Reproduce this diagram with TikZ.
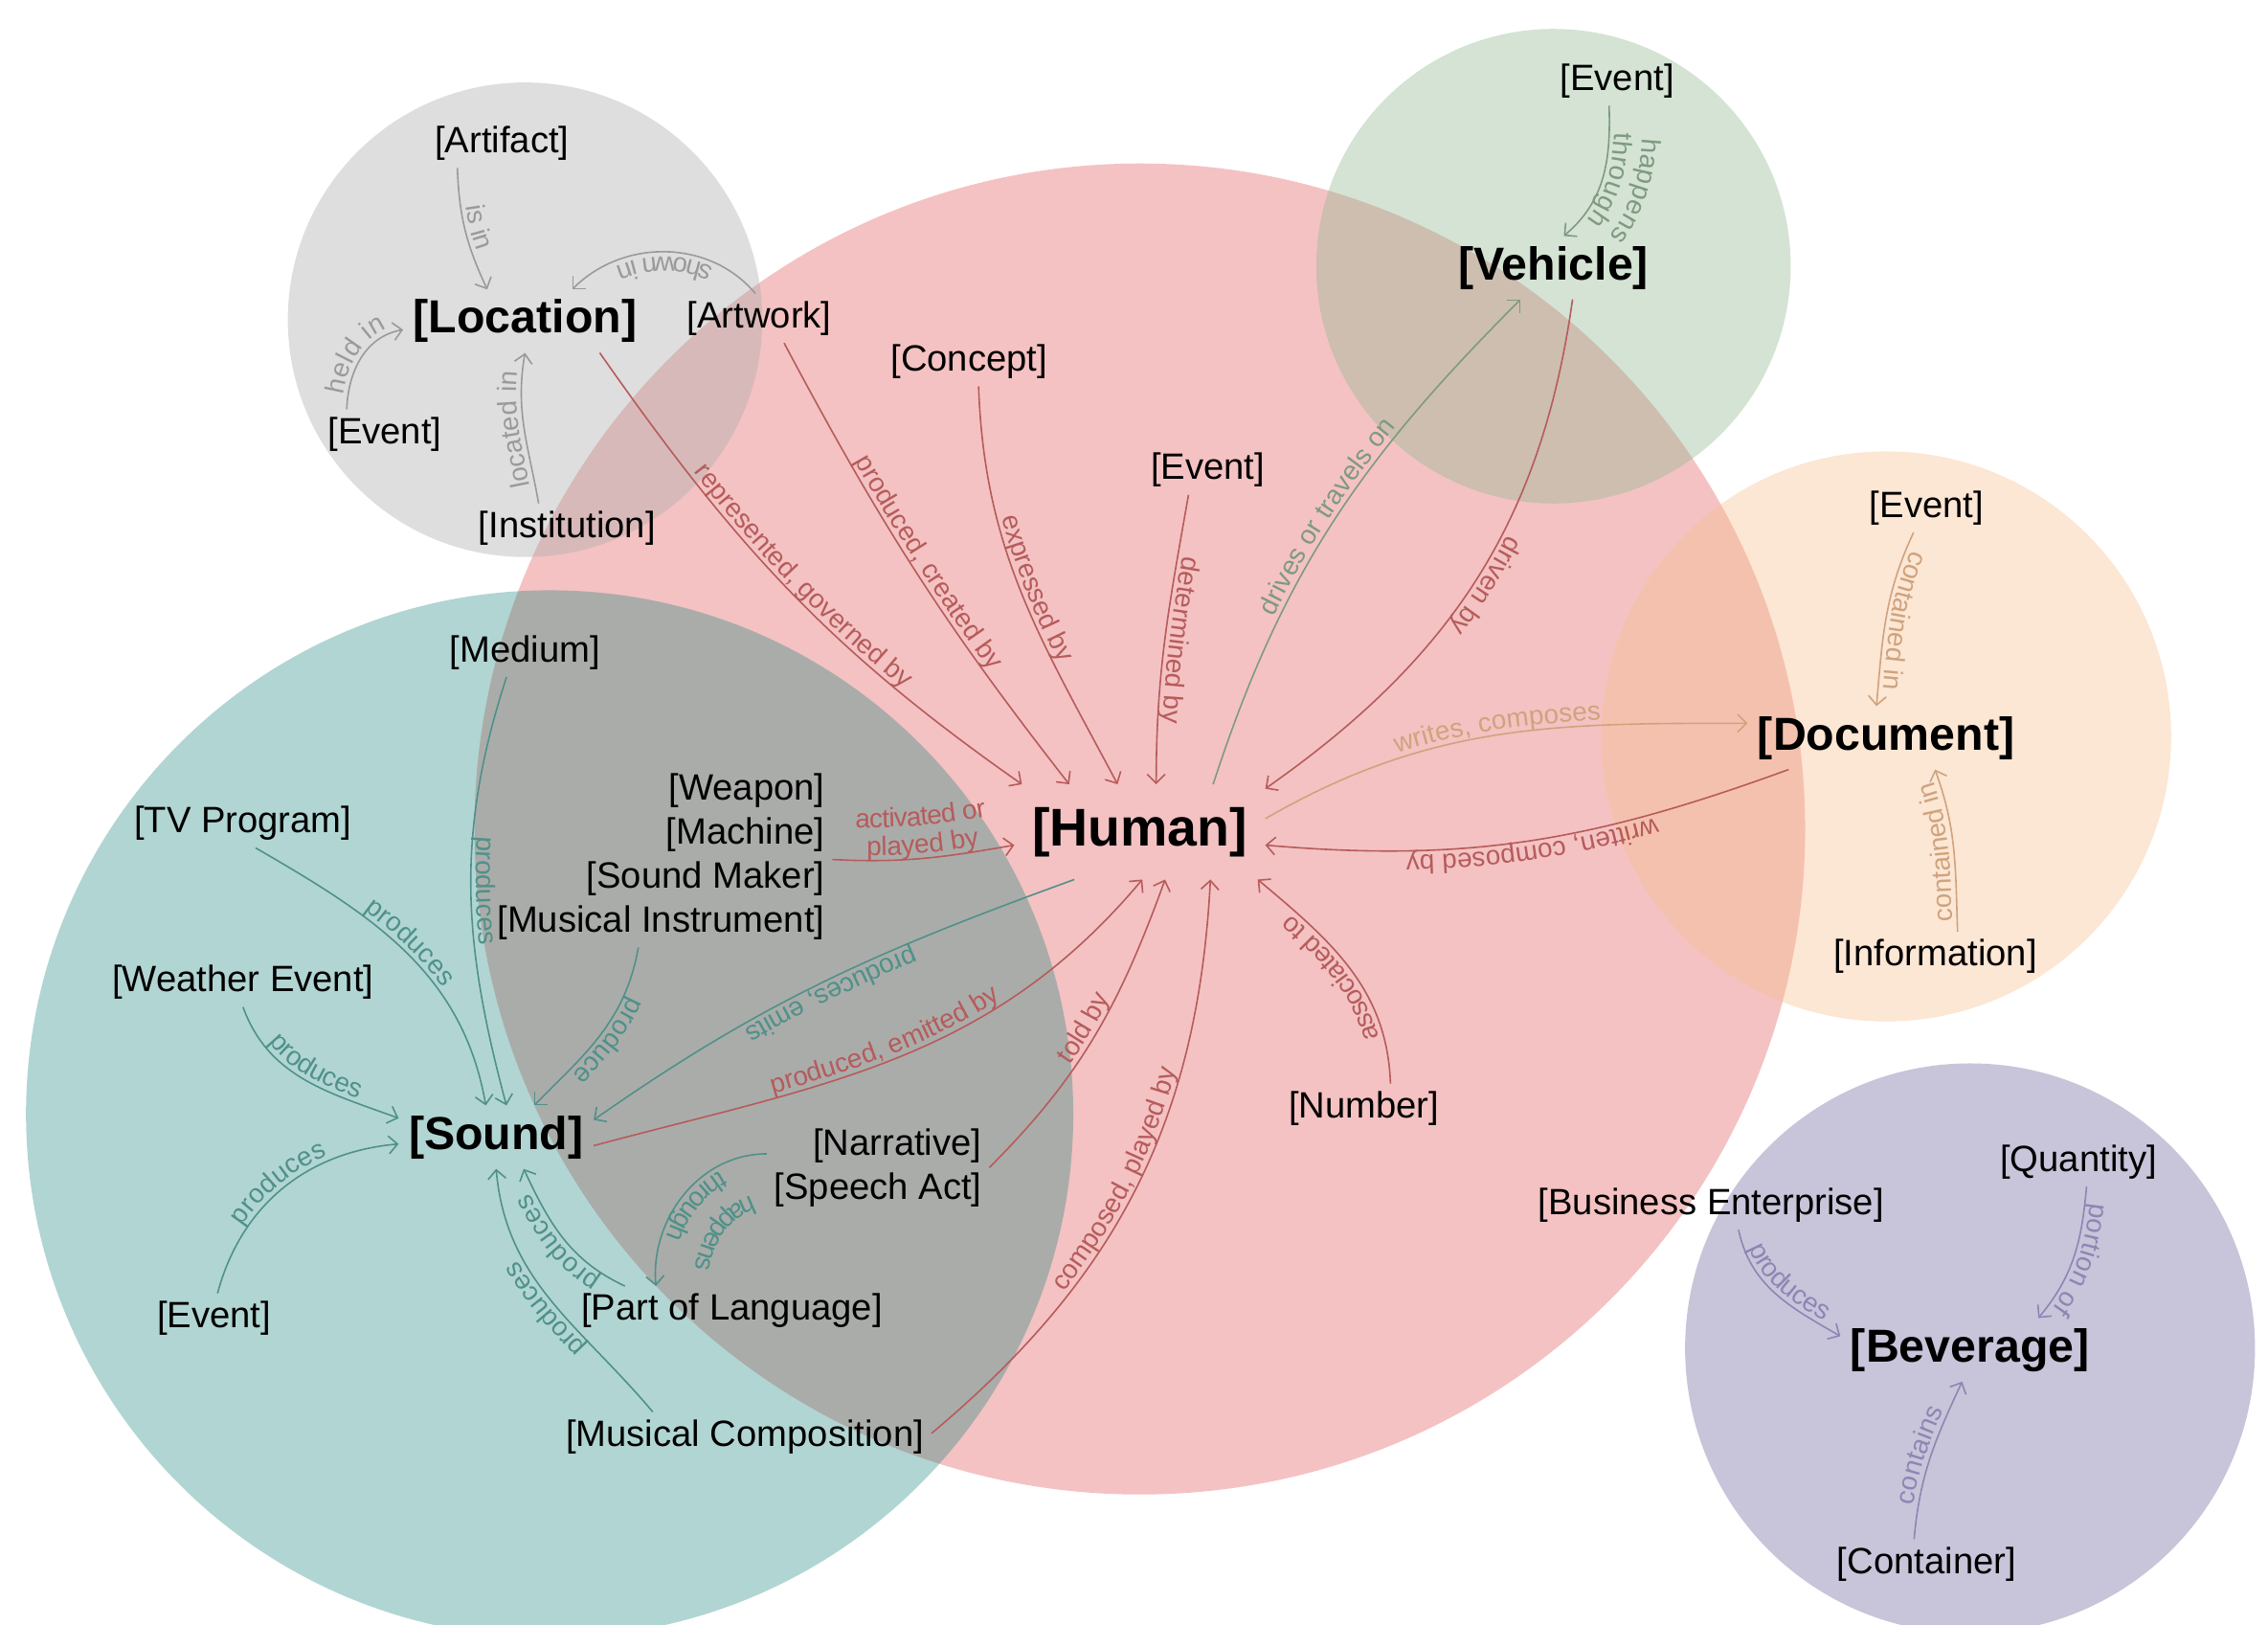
\documentclass[tikz,border=0pt]{standalone}
\usepackage{fontspec}
\setmainfont{Liberation Sans}
\usetikzlibrary{arrows.meta,decorations.text}
\definecolor{fpink}{HTML}{E46666}
\definecolor{fgray}{HTML}{ACACAC}
\definecolor{fgreen}{HTML}{94B994}
\definecolor{forange}{HTML}{F8C194}
\definecolor{fteal}{HTML}{138079}
\definecolor{fpurple}{HTML}{766CA0}
\definecolor{egray}{HTML}{9A9A9A}
\definecolor{ered}{HTML}{B65B5B}
\definecolor{egreen}{HTML}{7E9A80}
\definecolor{eteal}{HTML}{4F9189}
\definecolor{etan}{HTML}{CFA37D}
\definecolor{epurple}{HTML}{8C86B5}
\newcommand\elabfont{\fontsize{10.5}{11.5}\selectfont}
\tikzset{
  blob/.style={fill opacity=0.4},
  ent/.style={font=\fontsize{14.4}{17.4}\selectfont, inner sep=3pt, outer sep=0pt},
  hub/.style={font=\fontsize{18.2}{21}\selectfont\bfseries, inner sep=4pt, outer sep=0pt},
  hubbig/.style={font=\fontsize{20.9}{24}\selectfont\bfseries, inner xsep=7pt, inner ysep=9pt, outer sep=0pt},
  link/.style={line width=0.6pt, -{Straight Barb[length=3.5pt,width=7pt]}},
  tl/.style 2 args={postaction={decorate, decoration={text along path, text align=center, raise=2pt, text={|\elabfont\color{#1}|#2}}}},
  tlb/.style n args={3}{postaction={decorate, decoration={text along path, text align=center, raise=2pt, text={|\elabfont\color{#1}|#3}}},
                        postaction={decorate, decoration={text along path, text align=center, raise=13pt, text={|\elabfont\color{#1}|#2}}}},
  lgray/.style={link, egray},
  lred/.style={link, ered},
  lgreen/.style={link, egreen},
  lteal/.style={link, eteal},
  ltan/.style={link, etan},
  lpurple/.style={link, epurple}
}
\begin{document}
\begin{tikzpicture}[x=0.02cm, y=0.02cm]
\useasboundingbox (0,0) rectangle (1568,-1123);
\clip (0,0) rectangle (1568,-1123);
% circles
\fill[blob, fpink] (788,-573) circle [radius=460];
\fill[blob, fgray] (363,-221) circle [radius=164];
\fill[blob, fgreen] (1074,-184) circle [radius=164];
\fill[blob, forange] (1304,-509) circle [radius=197];
\fill[blob, fteal, fill opacity=0.33] (380,-770) circle [radius=362];
\fill[blob, fpurple] (1362,-932) circle [radius=197];
% nodes
\node[ent] (art) at (347,-99) {[Artifact]};
\node[hub] (loc) at (363,-222) {[Location]};
\node[ent] (awk) at (525,-220) {[Artwork]};
\node[ent] (ev1) at (266,-300) {[Event]};
\node[ent] (ins) at (392,-365) {[Institution]};
\node[hubbig] (hum) at (788,-575) {[Human]};
\node[ent] (con) at (670,-250) {[Concept]};
\node[ent] (ev2) at (835,-325) {[Event]};
\node[ent] (num) at (943,-766) {[Number]};
\node[ent, align=right] (wmm) at (457,-592) {[Weapon]\\{}[Machine]\\{}[Sound Maker]\\{}[Musical Instrument]};
\node[ent, align=right] (nar) at (607,-807) {[Narrative]\\{}[Speech Act]};
\node[ent] (pol) at (506,-906) {[Part of Language]};
\node[ent] (mc) at (515,-993) {[Musical Composition]};
\node[hub] (snd) at (343,-786) {[Sound]};
\node[ent] (med) at (363,-451) {[Medium]};
\node[ent] (tv) at (168,-569) {[TV Program]};
\node[ent] (we) at (168,-679) {[Weather Event]};
\node[ent] (ev3) at (148,-911) {[Event]};
\node[hub] (veh) at (1074,-185) {[Vehicle]};
\node[ent] (ev4) at (1118,-56) {[Event]};
\node[hub] (doc) at (1304,-510) {[Document]};
\node[ent] (ev5) at (1332,-351) {[Event]};
\node[ent] (inf) at (1338,-661) {[Information]};
\node[hub] (bev) at (1362,-933) {[Beverage]};
\node[ent] (be) at (1183,-833) {[Business Enterprise]};
\node[ent] (qty) at (1437,-803) {[Quantity]};
\node[ent] (cnt) at (1332,-1081) {[Container]};
% guide points for the outer line of two-line labels
\coordinate (vh1) at (1132,-73);
\coordinate (vh2) at (1094,-177);
\coordinate (sh1) at (533,-821);
\coordinate (sh2) at (477,-892);
% location group
\draw[lgray, tl={egray}{is in}] (art.209) to[out=-88,in=115] (loc.140);
\draw[lgray, tl={egray}{shown in}] (awk.99) to[out=130,in=45] (loc.34);
\draw[lgray, tl={egray}{held in}] (ev1.147) to[out=88,in=190] (loc.184);
\draw[lgray, tl={egray}{located in}] (ins.139) to[out=100,in=-100] (loc.270);
% human group
\draw[lred, tl={ered}{represented, governed by}] (loc.-23) to[out=-55,in=145] (hum.158);
\draw[lred, tl={ered}{produced, created by}] (awk.-45) to[out=-62,in=128] (hum.146);
\draw[lred, tl={ered}{expressed by}] (con.-69) to[out=-88,in=118] (hum.115);
\draw[lred, tl={ered}{determined by}] (ev2.232) to[out=-100,in=90] (hum.71);
\draw[lgreen, tl={egreen}{drives or travels on}] (hum.33) to[out=72,in=225] (veh.224);
\draw[lred, tl={ered}{driven by}] (veh.-59) to[out=-98,in=35] (hum.19);
\draw[ltan, tl={etan}{writes, composes}] (hum.6) to[out=30,in=180] (doc.174);
\draw[lred, tl={ered}{written, composed by}] (doc.198) to[out=200,in=-5] (hum.-6);
\draw[lred, tl={ered}{associated to}] (num.43) to[out=92,in=-40] (hum.-22);
\draw[lred, tl={ered}{composed, played by}] (mc.1) to[out=40,in=-93] (hum.-34);
\draw[lred, tl={ered}{told by}] (nar.0) to[out=45,in=-110] (hum.-62);
\draw[lred, tl={ered}{produced, emitted by}] (snd.-5) to[out=15,in=-130] (hum.-87);
\draw[lteal, tl={eteal}{produces, emits}] (hum.216) to[out=200,in=35] (snd.10);
\draw[lred, tlb={ered}{activated or}{played by}] (wmm.-1) to[out=-3,in=190] (hum.186);
% sound group
\draw[lteal, tl={eteal}{produces}] (tv.-63) to[out=-30,in=100] (snd.108);
\draw[lteal, tl={eteal}{produces}] (med.233) to[out=-108,in=105] (snd.72);
\draw[lteal, tl={eteal}{produce}] (wmm.256) to[out=-100,in=45] (snd.40);
\draw[lteal, tl={eteal}{produces}] (we.270) to[out=-70,in=160] (snd.169);
\draw[lteal, tl={eteal}{produces}] (ev3.82) to[out=75,in=185] (snd.184);
\draw[lteal, tl={eteal}{produces}] (pol.167) to[out=155,in=-65] (snd.-49);
\draw[lteal, tl={eteal}{produces}] (mc.165) to[out=130,in=-85] (snd.270);
\draw[lteal, tl={eteal}{through}] (nar.173) to[out=180,in=95] (pol.162);
\path[tl={eteal}{happens}] (sh1) to[out=180,in=95] (sh2);
% vehicle group
\draw[lgreen, tl={egreen}{through}] (ev4.252) to[out=-88,in=40] (veh.72);
\path[tl={egreen}{happens}] (vh1) to[out=-88,in=40] (vh2);
% document group
\draw[ltan, tl={etan}{contained in}] (ev5.242) to[out=-115,in=85] (doc.107);
\draw[ltan, tl={etan}{contained in}] (inf.48) to[out=92,in=-70] (doc.-33);
% beverage group
\draw[lpurple, tl={epurple}{produces}] (be.-42) to[out=-78,in=150] (bev.174);
\draw[lpurple, tl={epurple}{portion of}] (qty.-72) to[out=-95,in=50] (bev.25);
\draw[lpurple, tl={epurple}{contains}] (cnt.117) to[out=85,in=-115] (bev.256);
\end{tikzpicture}
\end{document}
